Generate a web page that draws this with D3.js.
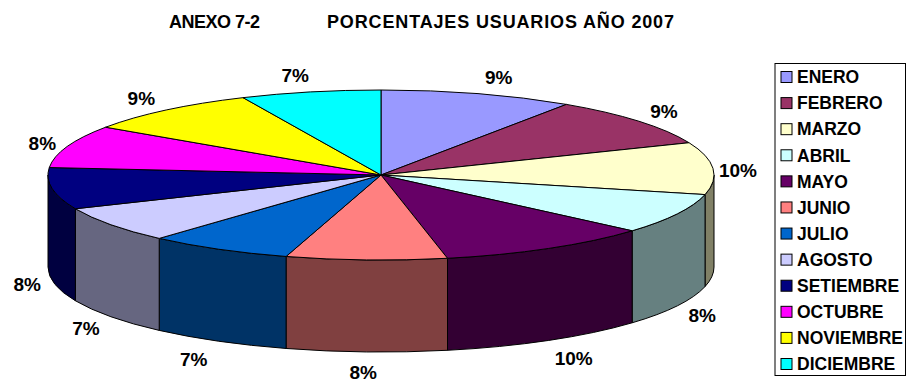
<!DOCTYPE html>
<html>
<head>
<meta charset="utf-8">
<script src="https://cdn.jsdelivr.net/npm/d3@7"></script>
<style>
  html, body { margin: 0; padding: 0; background: #ffffff; }
  svg { display: block; }
  text { font-family: Arial, "Liberation Sans", sans-serif; font-weight: bold; fill: #000; }
</style>
</head>
<body>
<svg id="chart" width="907" height="383"></svg>
<script>
// Monthly share of users, 2007 (percent)
const months = ["ENERO", "FEBRERO", "MARZO", "ABRIL", "MAYO", "JUNIO",
                "JULIO", "AGOSTO", "SETIEMBRE", "OCTUBRE", "NOVIEMBRE", "DICIEMBRE"];
const shares = [9.4, 9.4, 9.9, 7.7, 10.4, 7.8, 7.0, 6.9, 7.9, 8.1, 8.7, 6.8];
const palette = ["#9999FF", "#993366", "#FFFFCC", "#CCFFFF", "#660066", "#FF8080",
                 "#0066CC", "#CCCCFF", "#000080", "#FF00FF", "#FFFF00", "#00FFFF"];
const titleParts = ["ANEXO 7-2", "PORCENTAJES USUARIOS AÑO 2007"];

const svg = d3.select("#chart");

// title, two separate runs as in the original heading
svg.append("text").attr("x", 169).attr("y", 28).style("font-size", "18px")
  .attr("textLength", 91).text(titleParts[0]);
svg.append("text").attr("x", 327).attr("y", 28).style("font-size", "18px")
  .attr("textLength", 347).text(titleParts[1]);

// 3D pie geometry (tilted disc seen from above)
const cx = 381, cy = 175, rx = 333, ry = 85, depth = 92;
const pt = a => [cx + rx * Math.sin(a), cy - ry * Math.cos(a)];

const data = months.map((m, i) => ({ month: m, value: shares[i] }));
const total = d3.sum(shares);
const color = d3.scaleOrdinal().domain(months).range(palette);
const sideColor = m => {
  const c = d3.rgb(color(m));
  return d3.rgb(c.r * 0.5, c.g * 0.5, c.b * 0.5).formatHex();
};
const pct = d3.format(".0%");

const arcs = d3.pie().sort(null).value(d => d.value)(data);

// outer wall, only the front half is visible
const wallLayer = svg.append("g");
arcs.forEach(d => {
  const s = Math.max(d.startAngle, Math.PI / 2);
  const e = Math.min(d.endAngle, 3 * Math.PI / 2);
  if (e <= s) return;
  const p0 = pt(s), p1 = pt(e);
  const path = `M${p0[0]},${p0[1]} A${rx},${ry} 0 0 1 ${p1[0]},${p1[1]}` +
               ` L${p1[0]},${p1[1] + depth} A${rx},${ry} 0 0 0 ${p0[0]},${p0[1] + depth} Z`;
  wallLayer.append("path")
    .attr("d", path)
    .attr("fill", sideColor(d.data.month))
    .attr("stroke", "#000")
    .attr("stroke-width", 1)
    .attr("stroke-linejoin", "round");
});

// top faces
const faceLayer = svg.append("g");
arcs.forEach(d => {
  const p0 = pt(d.startAngle), p1 = pt(d.endAngle);
  const large = (d.endAngle - d.startAngle) > Math.PI ? 1 : 0;
  const path = `M${cx},${cy} L${p0[0]},${p0[1]} A${rx},${ry} 0 ${large} 1 ${p1[0]},${p1[1]} Z`;
  faceLayer.append("path")
    .attr("d", path)
    .attr("fill", color(d.data.month))
    .attr("stroke", "#000")
    .attr("stroke-width", 1)
    .attr("stroke-linejoin", "round");
});

// percentage labels just outside the rim (below the wall on the front half)
const labelPos = d => {
  const m = (d.startAngle + d.endAngle) / 2;
  const s = Math.sin(m), c = Math.cos(m);
  const p = pt(m);
  const x = p[0] + 25 * Math.sign(s) * Math.min(1, Math.abs(s) / 0.35);
  const y = c < 0 ? p[1] + depth - 19.5 * c + 0.5 : p[1] - 20 * c + 3;
  return [x, y];
};
svg.append("g").selectAll("text")
  .data(arcs)
  .join("text")
  .attr("x", d => labelPos(d)[0])
  .attr("y", d => labelPos(d)[1])
  .attr("text-anchor", "middle")
  .attr("dy", "0.36em")
  .style("font-size", "19px")
  .text(d => pct(d.data.value / total));

// legend
const lg = svg.append("g");
lg.append("rect")
  .attr("x", 775).attr("y", 63.5).attr("width", 130.5).attr("height", 312)
  .attr("fill", "#fff").attr("stroke", "#000").attr("stroke-width", 1);
const rowY = d3.scalePoint().domain(months).range([77, 364]);
const rows = lg.selectAll("g.row").data(months).join("g").attr("class", "row")
  .attr("transform", m => `translate(0,${rowY(m)})`);
rows.append("rect")
  .attr("x", 781).attr("y", -5.5).attr("width", 11).attr("height", 11)
  .attr("fill", m => color(m)).attr("stroke", "#000").attr("stroke-width", 1);
rows.append("text")
  .attr("x", 797).attr("dy", "0.36em")
  .style("font-size", "17.5px")
  .text(m => m);
</script>
</body>
</html>
